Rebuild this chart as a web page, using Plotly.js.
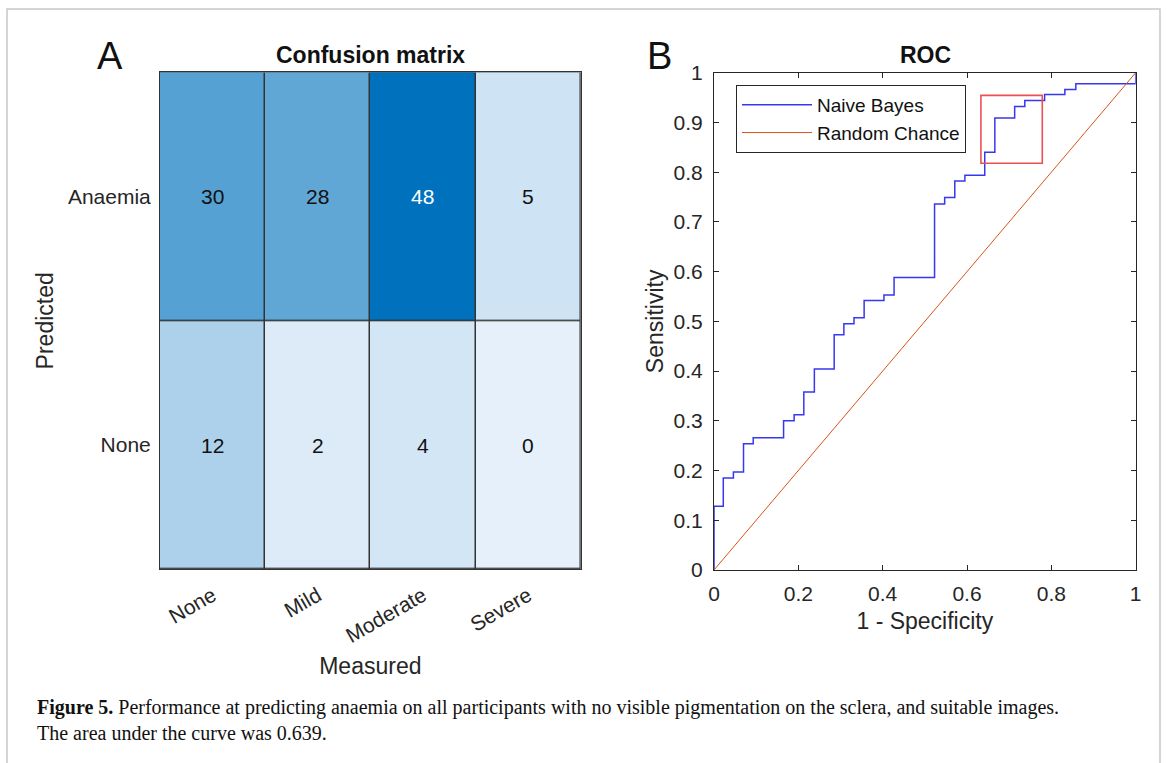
<!DOCTYPE html>
<html>
<head>
<meta charset="utf-8">
<script src="https://cdn.plot.ly/plotly-3.0.1.min.js"></script>
<style>
html,body{margin:0;padding:0;background:#fff;}
#chart{width:1167px;height:763px;}
</style>
</head>
<body>
<div id="chart"></div>
<script>
// ---------- DATA ----------
const measuredLabels = ['None', 'Mild', 'Moderate', 'Severe'];
const predictedLabels = ['Anaemia', 'None'];
const confusionCounts = [
  [30, 28, 48, 5],
  [12, 2, 4, 0]
];

// ROC curve (1 - specificity, sensitivity), step vertices
const rocFPR = [0, 0, 0.022, 0.046, 0.070, 0.093, 0.165, 0.190, 0.213, 0.238, 0.285, 0.308, 0.332, 0.356,
  0.403, 0.427, 0.523, 0.547, 0.571, 0.595, 0.642, 0.666, 0.713, 0.737, 0.784, 0.832, 0.858, 1.0];
const rocTPR = [0, 0.128, 0.185, 0.197, 0.254, 0.266, 0.300, 0.312, 0.358, 0.404, 0.473, 0.495, 0.507, 0.542,
  0.553, 0.588, 0.736, 0.749, 0.782, 0.794, 0.840, 0.909, 0.932, 0.944, 0.956, 0.966, 0.978, 1.0];
const chanceX = [0, 1];
const chanceY = [0, 1];
// highlighted region on ROC (data coordinates)
const highlightFPR = [0.633, 0.7785];
const highlightTPR = [0.818, 0.9545];

const rocXTicks = [0, 0.2, 0.4, 0.6, 0.8, 1];
const rocYTicks = [0, 0.1, 0.2, 0.3, 0.4, 0.5, 0.6, 0.7, 0.8, 0.9, 1];

const captionBold = 'Figure 5.';
const captionText = ' Performance at predicting anaemia on all participants with no visible pigmentation on the sclera, and suitable images.<br>The area under the curve was 0.639.';

// ---------- LAYOUT HELPERS ----------
const W = 1167, H = 763;
const px = v => v / W;
const py = v => 1 - v / H;
const FONT = 'Liberation Sans, Arial, Helvetica, sans-serif';
const INK = '#262626';

const zMax = Math.max(...confusionCounts.flat());

const traces = [
  {
    type: 'heatmap',
    x: measuredLabels,
    y: predictedLabels,
    z: confusionCounts,
    zmin: 0, zmax: zMax,
    colorscale: [[0, 'rgb(230,240,250)'], [1, 'rgb(0,114,189)']],
    showscale: false,
    xgap: 1.5, ygap: 1.5,
    xaxis: 'x', yaxis: 'y',
    hoverinfo: 'x+y+z'
  },
  {
    type: 'scatter', mode: 'lines',
    x: rocFPR, y: rocTPR,
    name: 'Naive Bayes',
    line: {color: 'rgb(55,55,240)', width: 1.5, shape: 'hv'},
    xaxis: 'x2', yaxis: 'y2'
  },
  {
    type: 'scatter', mode: 'lines',
    x: chanceX, y: chanceY,
    name: 'Random Chance',
    line: {color: '#D95319', width: 1},
    xaxis: 'x2', yaxis: 'y2'
  }
];

const annotations = [];
confusionCounts.forEach((row, i) => {
  row.forEach((v, j) => {
    annotations.push({
      x: measuredLabels[j], y: predictedLabels[i], xref: 'x', yref: 'y',
      text: String(v), showarrow: false,
      font: {family: FONT, size: 21, color: v > zMax * 0.8 ? '#ffffff' : '#111111'}
    });
  });
});
annotations.push(
  {text: 'A', xref: 'paper', yref: 'paper', x: px(110), y: py(56), showarrow: false,
   font: {family: FONT, size: 38, color: '#111'}, xanchor: 'center', yanchor: 'middle'},
  {text: 'B', xref: 'paper', yref: 'paper', x: px(659), y: py(56), showarrow: false,
   font: {family: FONT, size: 38, color: '#111'}, xanchor: 'center', yanchor: 'middle'},
  {text: '<b>Confusion matrix</b>', xref: 'paper', yref: 'paper', x: px(370), y: py(55), showarrow: false,
   font: {family: FONT, size: 23, color: '#111'}, xanchor: 'center', yanchor: 'middle'},
  {text: '<b>ROC</b>', xref: 'paper', yref: 'paper', x: px(925), y: py(55), showarrow: false,
   font: {family: FONT, size: 23, color: '#111'}, xanchor: 'center', yanchor: 'middle'},
  {text: '<b>' + captionBold + '</b>' + captionText, xref: 'paper', yref: 'paper',
   x: px(35), y: py(720), showarrow: false, align: 'left', xanchor: 'left', yanchor: 'middle',
   font: {family: 'Liberation Serif, Times New Roman, serif', size: 20, color: '#111'}}
);

const layout = {
  width: W, height: H,
  margin: {l: 0, r: 0, t: 0, b: 0},
  paper_bgcolor: '#ffffff',
  plot_bgcolor: '#ffffff',
  font: {family: FONT, color: INK},
  showlegend: true,
  legend: {
    x: px(736), y: py(85), xanchor: 'left', yanchor: 'top',
    bgcolor: '#ffffff', bordercolor: INK, borderwidth: 1,
    font: {family: FONT, size: 19, color: '#111'},
    itemwidth: 70, tracegroupgap: 0
  },
  xaxis: {
    domain: [px(160), px(580.7)], anchor: 'y',
    type: 'category', showgrid: false, zeroline: false,
    showline: true, mirror: true, linecolor: '#333', linewidth: 1,
    ticks: '', tickangle: -30, tickfont: {family: FONT, size: 21, color: INK}, ticklabelstandoff: 5,
    title: {text: 'Measured', standoff: 11, font: {family: FONT, size: 23, color: INK}},
    automargin: false, fixedrange: true
  },
  yaxis: {
    domain: [py(569.3), py(72.3)], anchor: 'x',
    type: 'category', autorange: 'reversed', showgrid: false, zeroline: false,
    showline: true, mirror: true, linecolor: '#333', linewidth: 1,
    ticks: '', tickfont: {family: FONT, size: 21, color: INK}, ticklabelstandoff: 4,
    title: {text: 'Predicted', standoff: 7, font: {family: FONT, size: 23, color: INK}},
    automargin: false, fixedrange: true
  },
  xaxis2: {
    domain: [px(714), px(1135.7)], anchor: 'y2',
    range: [0, 1], tickvals: rocXTicks, showgrid: false, zeroline: false,
    showline: true, mirror: 'ticks', linecolor: INK, linewidth: 1,
    ticks: 'inside', ticklen: 5, tickcolor: INK,
    tickfont: {family: FONT, size: 21, color: INK}, ticklabelstandoff: 5,
    title: {text: '1 - Specificity', standoff: 8, font: {family: FONT, size: 23, color: INK}},
    automargin: false, fixedrange: true
  },
  yaxis2: {
    domain: [py(570), py(72.7)], anchor: 'x2',
    range: [0, 1], tickvals: rocYTicks, showgrid: false, zeroline: false,
    showline: true, mirror: 'ticks', linecolor: INK, linewidth: 1,
    ticks: 'inside', ticklen: 5, tickcolor: INK,
    tickfont: {family: FONT, size: 21, color: INK}, ticklabelstandoff: 6,
    title: {text: 'Sensitivity', standoff: 3, font: {family: FONT, size: 23, color: INK}},
    automargin: false, fixedrange: true
  },
  shapes: [
    // dark backing so heatmap gaps read as cell borders
    {type: 'rect', xref: 'x domain', yref: 'y domain', x0: 0, x1: 1, y0: 0, y1: 1,
     fillcolor: '#333333', line: {width: 0}, layer: 'below'},
    // highlighted region on ROC
    {type: 'rect', xref: 'x2', yref: 'y2', x0: highlightFPR[0], x1: highlightFPR[1],
     y0: highlightTPR[0], y1: highlightTPR[1], line: {color: 'rgb(236,80,84)', width: 1.6}},
    // figure frame
    {type: 'rect', xref: 'paper', yref: 'paper', x0: px(7), x1: px(1160), y0: py(790), y1: py(9),
     line: {color: '#c8c8c8', width: 1.5}, layer: 'below'}
  ],
  annotations: annotations
};

Plotly.newPlot('chart', traces, layout, {displayModeBar: false, staticPlot: true});
</script>
</body>
</html>
